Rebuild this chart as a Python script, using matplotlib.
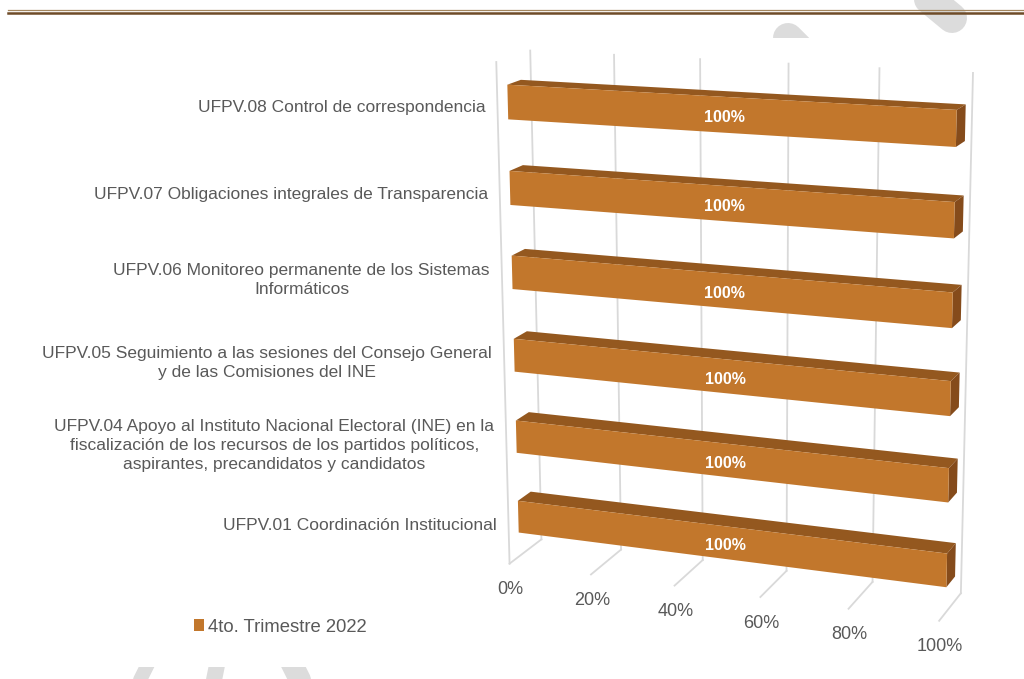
import numpy as np
import matplotlib
matplotlib.use('Agg')
import matplotlib.pyplot as plt
from matplotlib.patches import Patch, Rectangle, Polygon

plt.rcParams['font.family'] = ['Liberation Sans', 'DejaVu Sans']

# data (bottom to top, as drawn)
categories = [
    'UFPV.01 Coordinación Institucional',
    'UFPV.04 Apoyo al Instituto Nacional Electoral (INE) en la\n'
    'fiscalización de los recursos de los partidos políticos,\n'
    'aspirantes, precandidatos y candidatos',
    'UFPV.05 Seguimiento a las sesiones del Consejo General\n'
    'y de las Comisiones del INE',
    'UFPV.06 Monitoreo permanente de los Sistemas\nInformáticos',
    'UFPV.07 Obligaciones integrales de Transparencia',
    'UFPV.08 Control de correspondencia',
]
values = [100, 100, 100, 100, 100, 100]
series_name = '4to. Trimestre 2022'
ticks = [0, 20, 40, 60, 80, 100]
tick_labels = ['0%', '20%', '40%', '60%', '80%', '100%']
value_max = 100

front_col = '#C2772C'
top_col = '#94581F'
side_col = '#854B1B'
grid_col = '#D9D9D9'
text_col = '#595959'

W, H = 1024, 679
fig = plt.figure(figsize=(W / 100, H / 100), dpi=100)
ax = fig.add_axes([0, 0, 1, 1])
ax.set_xlim(0, W)
ax.set_ylim(H, 0)
ax.axis('off')

# view: where the corners of the 3d plot box (value, height, depth) land on the page
box_world = np.array([[0, 1, 0], [0, 0, 0], [0, 1, 1], [0, 0, 1],
                      [1, 1, 1], [1, 0, 1], [1, 0, 0]], float)
box_px = np.array([[496.5, 62], [509.5, 562.5], [530, 50.5], [541.5, 540.5],
                   [973, 73], [961, 592], [939, 622]], float)

rows = []
for (X, Y, Z), (u, v) in zip(box_world, box_px / 500):
    rows.append([X, Y, Z, 1, 0, 0, 0, 0, -u * X, -u * Y, -u * Z, -u])
    rows.append([0, 0, 0, 0, X, Y, Z, 1, -v * X, -v * Y, -v * Z, -v])
P = np.linalg.svd(np.array(rows))[2][-1].reshape(3, 4)


def proj(pts):
    pts = np.atleast_2d(np.asarray(pts, float))
    h = np.c_[pts, np.ones(len(pts))] @ P.T
    return h[:, :2] / h[:, 2:3] * 500


# watermark pieces behind the chart area
wm = dict(color='#DCDCDC', solid_capstyle='round', zorder=0)
ax.plot([912, 952], [-15, 18], lw=30 * 0.72, **wm)
ax.plot([788, 840], [38, 90], lw=30 * 0.72, **wm)
ax.plot([150, 130], [660, 700], lw=14 * 0.72, **wm)
ax.plot([218, 210], [660, 700], lw=16 * 0.72, **wm)
ax.plot([290, 310], [660, 700], lw=22 * 0.72, **wm)
ax.add_patch(Rectangle((0, 38), W, 629, facecolor='white', edgecolor='none', zorder=1))

# header double rule
ax.plot([8, W], [9.5, 9.5], color='#A3865F', lw=0.9, zorder=2)
ax.plot([8, W], [12.5, 12.5], color='#6E4B28', lw=1.8, zorder=2)

# walls
n = len(categories)
for t in ticks:
    x = t / value_max
    back = proj([[x, 0, 1], [x, 1, 1]])
    floor = proj([[x, 0, 0], [x, 0, 1]])
    ax.plot(back[:, 0], back[:, 1], color=grid_col, lw=1.3, zorder=2)
    ax.plot(floor[:, 0], floor[:, 1], color=grid_col, lw=1.3, zorder=2)
edge = proj([[0, 0, 0], [0, 1, 0]])
ax.plot(edge[:, 0], edge[:, 1], color=grid_col, lw=1.3, zorder=2)

for t, lab in zip(ticks, tick_labels):
    u, v = proj([t / value_max, 0, 0])[0]
    ax.text(u + 1, v + 26, lab, ha='center', va='center', fontsize=13, color=text_col)

# bars
z0, z1 = 0.3, 0.7
gap = 0.3
for i, (cat, val) in enumerate(zip(categories, values)):
    y0, y1 = (i + gap) / n, (i + 1 - gap) / n
    x1 = val / value_max
    top = proj([[0, y1, z0], [x1, y1, z0], [x1, y1, z1], [0, y1, z1]])
    side = proj([[x1, y0, z0], [x1, y0, z1], [x1, y1, z1], [x1, y1, z0]])
    front = proj([[0, y0, z0], [x1, y0, z0], [x1, y1, z0], [0, y1, z0]])
    ax.add_patch(Polygon(top, closed=True, facecolor=top_col, edgecolor='none', zorder=3))
    ax.add_patch(Polygon(side, closed=True, facecolor=side_col, edgecolor='none', zorder=3))
    ax.add_patch(Polygon(front, closed=True, facecolor=front_col, edgecolor='none', zorder=3))

    cu, cv = proj([x1 / 2, (i + 0.5) / n, z0])[0]
    ax.text(cu, cv + 3, f'{val}%', ha='center', va='center', fontsize=11.5,
            fontweight='bold', color='white', zorder=4)

    lu, lv = proj([0, (i + 0.5) / n, 0])[0]
    ax.text(lu - 12, lv + 2, cat, ha='right', va='center', multialignment='center',
            fontsize=12.5, color=text_col, linespacing=1.33)

handle = Patch(facecolor=front_col, edgecolor='none')
ax.legend([handle], [series_name], loc='center left',
          bbox_to_anchor=(194 / W, 1 - 627 / H), bbox_transform=fig.transFigure,
          frameon=False, borderpad=0, borderaxespad=0, handlelength=0.55,
          handleheight=0.55, handletextpad=0.22, fontsize=13.3, labelcolor=text_col)

fig.savefig('out.png', dpi=100)
